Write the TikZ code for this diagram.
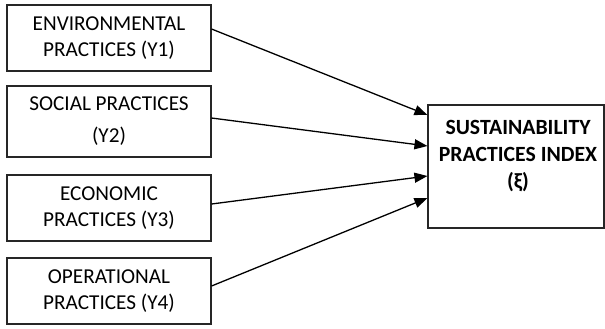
\documentclass[tikz,border=0pt]{standalone}
\usepackage{fontspec}
\setmainfont{Carlito}
\usetikzlibrary{arrows.meta}
\begin{document}
\begin{tikzpicture}[x=1bp,y=-1bp,
  boxy/.style={draw=black!85, line width=1.1bp, minimum width=204bp, inner sep=0pt, align=center, font=\fontsize{21.3}{25.5}\selectfont},
  conn/.style={line width=1.3bp, -{Triangle[length=13bp,width=10bp]}}]
\useasboundingbox (0,0) rectangle (605,328);
\node[boxy, minimum height=66bp] (b1) at (109,38) {ENVIRONMENTAL\\PRACTICES (Y1)};
\node[boxy, minimum height=71bp, font=\fontsize{21.3}{32}\selectfont] (b2) at (109,121.5) {SOCIAL PRACTICES\\(Y2)};
\node[boxy, minimum height=66bp] (b3) at (109,208) {ECONOMIC\\PRACTICES (Y3)};
\node[boxy, minimum height=66bp] (b4) at (109,291) {OPERATIONAL\\PRACTICES (Y4)};
\node[draw=black!85, line width=1.1bp, minimum width=176bp, minimum height=123bp, inner sep=0pt] (r) at (516,166.5) {};
\node[align=center, inner sep=0pt, font=\fontsize{21.8}{27}\selectfont\bfseries] (rt) at (518,156) {SUSTAINABILITY\\PRACTICES INDEX\\(ξ)};
\draw[conn] ([yshift=9bp]b1.east) -- ([yshift=51.5bp]r.west);
\draw[conn] ([yshift=3.5bp]b2.east) -- ([yshift=20.5bp]r.west);
\draw[conn] ([yshift=4bp]b3.east) -- ([yshift=-9.5bp]r.west);
\draw[conn] ([yshift=5bp]b4.east) -- ([yshift=-31.5bp]r.west);
\end{tikzpicture}
\end{document}
